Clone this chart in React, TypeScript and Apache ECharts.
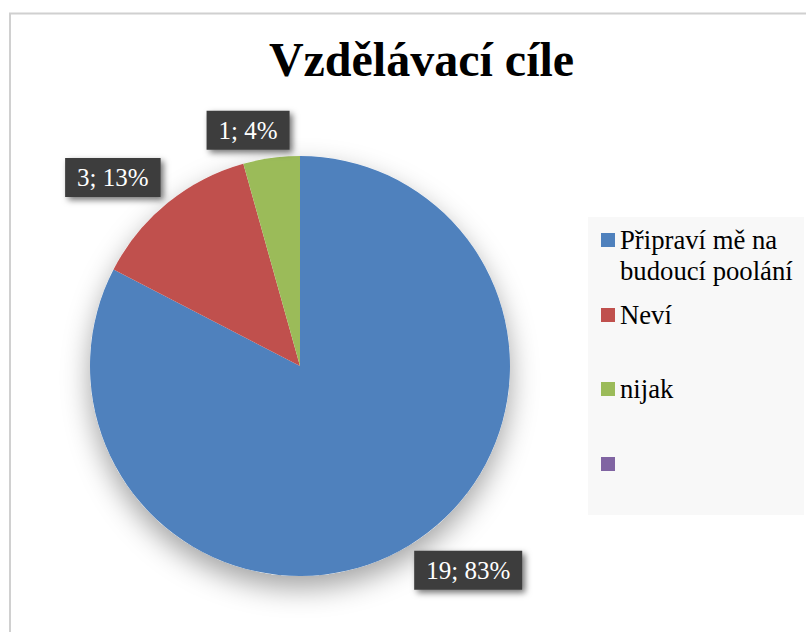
import React, { useEffect, useRef } from "react";
import * as echarts from "echarts";

const titleText = "Vzdělávací cíle";
const categories = ["Připraví mě na budoucí poolání", "Neví", "nijak", " "];
const values = [19, 3, 1, 0];
const legendTexts = ["\nPřipraví mě na\nbudoucí poolání", "Neví", "nijak", " "];
const colors = ["#4F81BD", "#C0504D", "#9BBB59", "#8064A2"];
const lineLen = [29, 33, 28, 0];
const lineLen2 = [-15, -19, -27, 0];
const legendTops = [193.5, 299.5, 373.5, 448.5];

const SERIF = "'Liberation Serif', 'Times New Roman', 'DejaVu Serif', serif";

export default function App() {
  const ref = useRef<HTMLDivElement>(null);
  useEffect(() => {
    if (!ref.current) return;
    const chart = echarts.init(ref.current, null, { renderer: "svg" });
    const total = values.reduce((a, b) => a + b, 0);
    const option: any = {
      animation: false,
      backgroundColor: "#ffffff",
      title: {
        text: titleText,
        left: 421.5,
        textAlign: "center",
        top: 35,
        padding: 0,
        textStyle: {
          fontFamily: SERIF,
          fontSize: 48,
          fontWeight: "bold",
          color: "#000000",
          lineHeight: 48,
        },
      },
      graphic: [
        {
          type: "rect",
          z: -10,
          shape: { x: 10, y: 13.5, width: 900, height: 700 },
          style: { fill: "none", stroke: "#d0d0d0", lineWidth: 2 },
          silent: true,
        },
        {
          type: "rect",
          z: -10,
          shape: { x: 588, y: 217, width: 216, height: 298 },
          style: { fill: "#f8f8f8" },
          silent: true,
        },
      ],
      legend: categories.map((name, i) => ({
        data: [name],
        orient: "vertical",
        left: 601,
        top: legendTops[i],
        padding: 0,
        itemWidth: 14,
        itemHeight: 14,
        icon: "rect",
        selectedMode: false,
        formatter: () => legendTexts[i],
        textStyle: {
          fontFamily: SERIF,
          fontSize: 26.7,
          lineHeight: 31,
          color: "#000000",
        },
      })),
      series: [
        {
          type: "pie",
          name: "shadow",
          center: [300, 366],
          radius: 210,
          silent: true,
          z: 1,
          label: { show: false },
          labelLine: { show: false },
          itemStyle: {
            color: "#ffffff",
            shadowBlur: 28,
            shadowOffsetY: 12,
            shadowColor: "rgba(0,0,0,0.36)",
          },
          data: [{ name: "__shadow", value: total }],
        },
        {
          type: "pie",
          name: titleText,
          center: [300, 366],
          radius: 210,
          startAngle: 90,
          clockwise: true,
          avoidLabelOverlap: false,
          z: 2,
          label: {
            show: true,
            position: "outside",
            distanceToLabelLine: 5,
            fontFamily: SERIF,
            fontSize: 25,
            lineHeight: 25,
            color: "#ffffff",
            backgroundColor: "#3d3d3d",
            padding: [7, 12],
            shadowColor: "rgba(0,0,0,0.55)",
            shadowBlur: 6,
            shadowOffsetX: 3,
            shadowOffsetY: 3,
            formatter: (p: any) => `${p.value}; ${Math.round(p.percent)}%`,
          },
          emphasis: { disabled: true },
          data: categories.map((name, i) => ({
            name,
            value: values[i],
            itemStyle: { color: colors[i] },
            label: { show: values[i] > 0 },
            labelLine: { show: false, length: lineLen[i], length2: lineLen2[i] },
          })),
        },
      ],
    };
    chart.setOption(option);
    return () => chart.dispose();
  }, []);
  return (
    <div
      ref={ref}
      style={{ position: "fixed", left: 0, top: 0, width: 806, height: 632 }}
    />
  );
}
